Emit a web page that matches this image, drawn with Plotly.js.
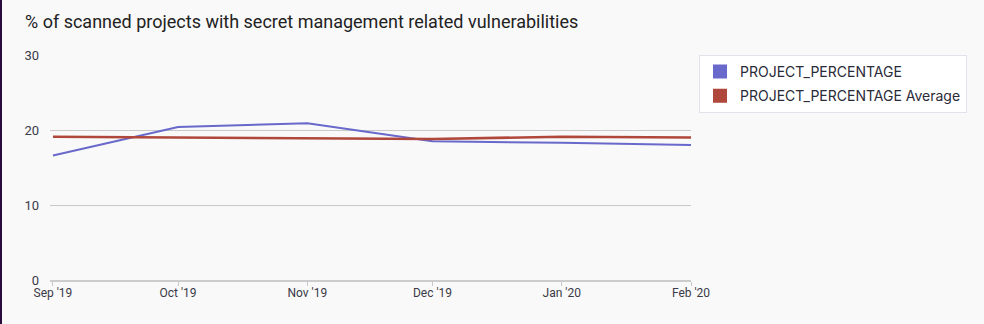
<!DOCTYPE html>
<html>
<head>
<meta charset="utf-8">
<script src="https://cdn.plot.ly/plotly-3.0.1.min.js"></script>
<style>
html,body{margin:0;padding:0;background:#f9f9f9;}
#wrap{position:relative;width:984px;height:324px;}
#chart{width:984px;height:324px;}
#edge{position:absolute;left:0;top:0;width:2px;height:324px;background:#2a0c3c;}
</style>
</head>
<body>
<div id="wrap"><div id="chart"></div><div id="edge"></div></div>
<script>
const months = ["2019-09-01","2019-10-01","2019-11-01","2019-12-01","2020-01-01","2020-02-01"];
const tickLabels = ["Sep '19","Oct '19","Nov '19","Dec '19","Jan '20","Feb '20"];
const projectPercentage = [16.6, 20.4, 20.9, 18.5, 18.3, 18.0];
const projectPercentageAvg = [19.1, 19.0, 18.8, 18.8, 19.1, 19.0];
const seriesNames = ["PROJECT_PERCENTAGE", "PROJECT_PERCENTAGE Average"];
const colors = ["#6969cb", "#b0473b"];

const data = [
  {x: months, y: projectPercentage, type: 'scatter', mode: 'lines', name: seriesNames[0],
   line: {color: colors[0], width: 2}, showlegend: false, hoverinfo: 'x+y'},
  {x: months, y: projectPercentageAvg, type: 'scatter', mode: 'lines', name: seriesNames[1],
   line: {color: colors[1], width: 2.6}, showlegend: false, hoverinfo: 'x+y'},
  {x: [null], y: [null], type: 'bar', name: seriesNames[0], legendgroup: 'a',
   marker: {color: colors[0], line: {color: colors[0], width: 2}}},
  {x: [null], y: [null], type: 'bar', name: seriesNames[1], legendgroup: 'b',
   marker: {color: colors[1], line: {color: colors[1], width: 2}}}
];

const layout = {
  width: 984, height: 324,
  paper_bgcolor: '#f9f9f9', plot_bgcolor: '#f9f9f9',
  margin: {l: 50, r: 293, t: 55, b: 44},
  title: {text: '% of scanned projects with secret management related vulnerabilities',
          x: 25/984, xref: 'container', xanchor: 'left',
          y: 1 - 22/324, yref: 'container', yanchor: 'middle',
          pad: {t: 0, l: 0, r: 0, b: 0},
          font: {family: 'Roboto, sans-serif', size: 18, color: '#222'}},
  xaxis: {type: 'date', range: ['2019-08-31 07:00', '2020-02-01'],
          tickvals: months, ticktext: tickLabels,
          ticks: 'outside', ticklen: 4, tickcolor: '#c8c8c8',
          ticklabelstandoff: -3,
          showgrid: false, showline: true, linecolor: '#cccccc', linewidth: 2,
          zeroline: false,
          tickfont: {family: 'Roboto, sans-serif', size: 12, color: '#3a3a48'}},
  yaxis: {range: [0, 30], tickvals: [0, 10, 20, 30],
          showgrid: true, gridcolor: '#c9c9c9', gridwidth: 1,
          zeroline: false, showline: false, ticks: '',
          ticklabelstandoff: 10,
          tickfont: {family: 'Roboto, sans-serif', size: 13, color: '#3a3a48'}},
  showlegend: true,
  legend: {x: (699 - 50) / 641, xanchor: 'left', y: 1, yanchor: 'top',
           bgcolor: '#ffffff', bordercolor: '#e2e2ea', borderwidth: 1,
           font: {family: 'Inter, sans-serif', size: 14, color: '#2a2a38'},
           itemwidth: 30, tracegroupgap: 3},
  hovermode: 'closest'
};

Plotly.newPlot('chart', data, layout, {displayModeBar: false, responsive: false});
</script>
</body>
</html>
